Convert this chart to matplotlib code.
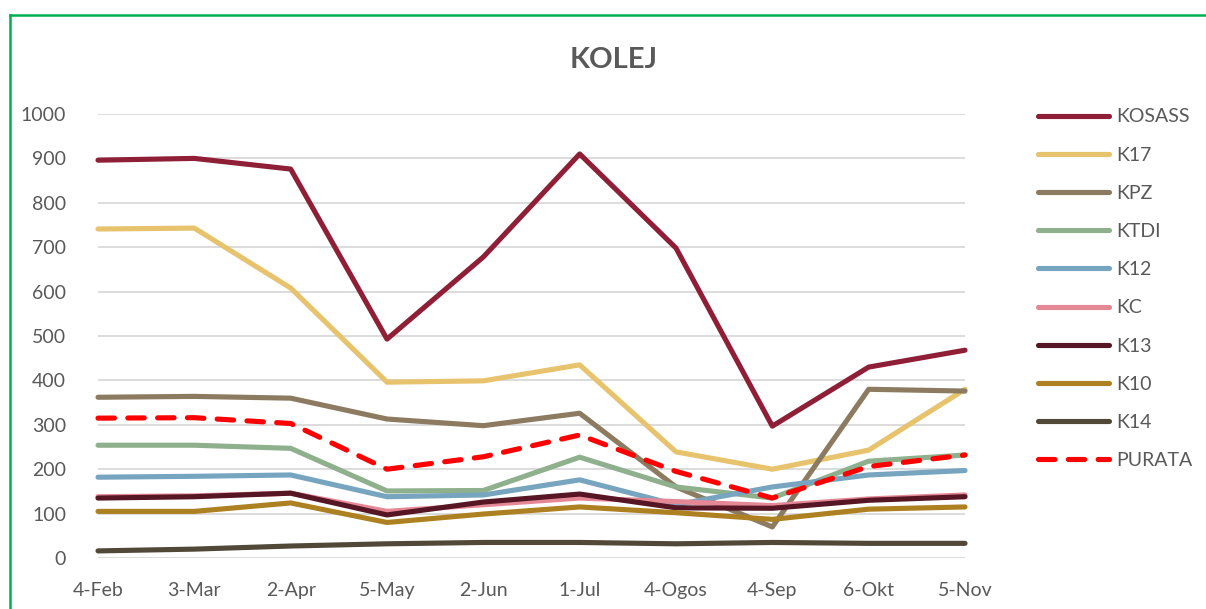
import matplotlib
matplotlib.use("Agg")
import matplotlib.pyplot as plt
from matplotlib.lines import Line2D

categories = ["4-Feb", "3-Mar", "2-Apr", "5-May", "2-Jun", "1-Jul", "4-Ogos", "4-Sep", "6-Okt", "5-Nov"]

kosass = [896, 900, 876, 493, 678, 910, 698, 297, 430, 468]
k17 = [741, 743, 608, 396, 399, 435, 239, 200, 243, 380]
kpz = [362, 364, 360, 313, 298, 326, 160, 70, 380, 376]
ktdi = [254, 254, 247, 151, 152, 227, 160, 135, 218, 232]
k12 = [182, 184, 187, 138, 142, 176, 120, 160, 187, 197]
kc = [138, 140, 146, 105, 120, 135, 127, 118, 133, 142]
k13 = [135, 138, 146, 97, 126, 144, 113, 112, 130, 138]
k10 = [105, 105, 124, 80, 99, 115, 102, 87, 110, 115]
k14 = [16, 20, 27, 32, 35, 35, 32, 35, 33, 33]
purata = [315, 316, 303, 200, 228, 277, 195, 135, 206, 232]

series_names = ["KOSASS", "K17", "KPZ", "KTDI", "K12", "KC", "K13", "K10", "K14"]
series_values = [kosass, k17, kpz, ktdi, k12, kc, k13, k10, k14]
series_colors = ["#8E1F36", "#E8C36E", "#8C7B60", "#8FB08C", "#77A4BF", "#E48896", "#561624", "#AD8121", "#524838"]

plt.rcParams['font.family'] = ['Lato', 'DejaVu Sans']
text_color = "#595959"

fig = plt.figure(figsize=(12.06, 6.09), dpi=100)
ax = fig.add_axes([98/1206, 1 - 558/609, (965-98)/1206, (558-114)/609])

x = list(range(len(categories)))
lw = 3.7
for name, vals, col in zip(series_names, series_values, series_colors):
    ax.plot(x, vals, color=col, lw=lw, label=name, solid_capstyle='round',
            solid_joinstyle='round', clip_on=False, zorder=3)
ax.plot(x, purata, color="#FF0000", lw=lw, label="PURATA", linestyle=(0, (3.2, 2.6)),
        dash_capstyle='round', clip_on=False, zorder=4)

ax.set_xlim(0, len(categories) - 1)
ax.set_ylim(0, 1000)
ax.set_yticks(range(0, 1001, 100))
ax.set_xticks(x)
ax.set_xticklabels(categories)
ax.grid(axis='y', color="#D9D9D9", lw=1.3, zorder=0)
ax.grid(axis='x', visible=False)
for s in ax.spines.values():
    s.set_visible(False)
ax.tick_params(axis='both', length=0, labelsize=14, colors=text_color)
ax.tick_params(axis='y', pad=23)
ax.tick_params(axis='x', pad=17)

fig.text(614/1206, 1 - 60/609, "KOLEJ", ha='center', va='center', fontsize=21,
         fontweight='bold', color=text_color)

leg = fig.legend(loc='upper left', bbox_to_anchor=(1020/1206, 1 - 91/609), frameon=False,
                 fontsize=14, handlelength=3.7, labelspacing=1.09, handletextpad=0.35,
                 labelcolor=text_color)

# outer green border (top and left)
fig.add_artist(Line2D([10/1206, 1.0], [1 - 15/609, 1 - 15/609], color="#00B050", lw=1.8,
                      transform=fig.transFigure))
fig.add_artist(Line2D([10/1206, 10/1206], [0, 1 - 15/609], color="#00B050", lw=1.8,
                      transform=fig.transFigure))

fig.savefig("out.png", dpi=100, facecolor="white")
